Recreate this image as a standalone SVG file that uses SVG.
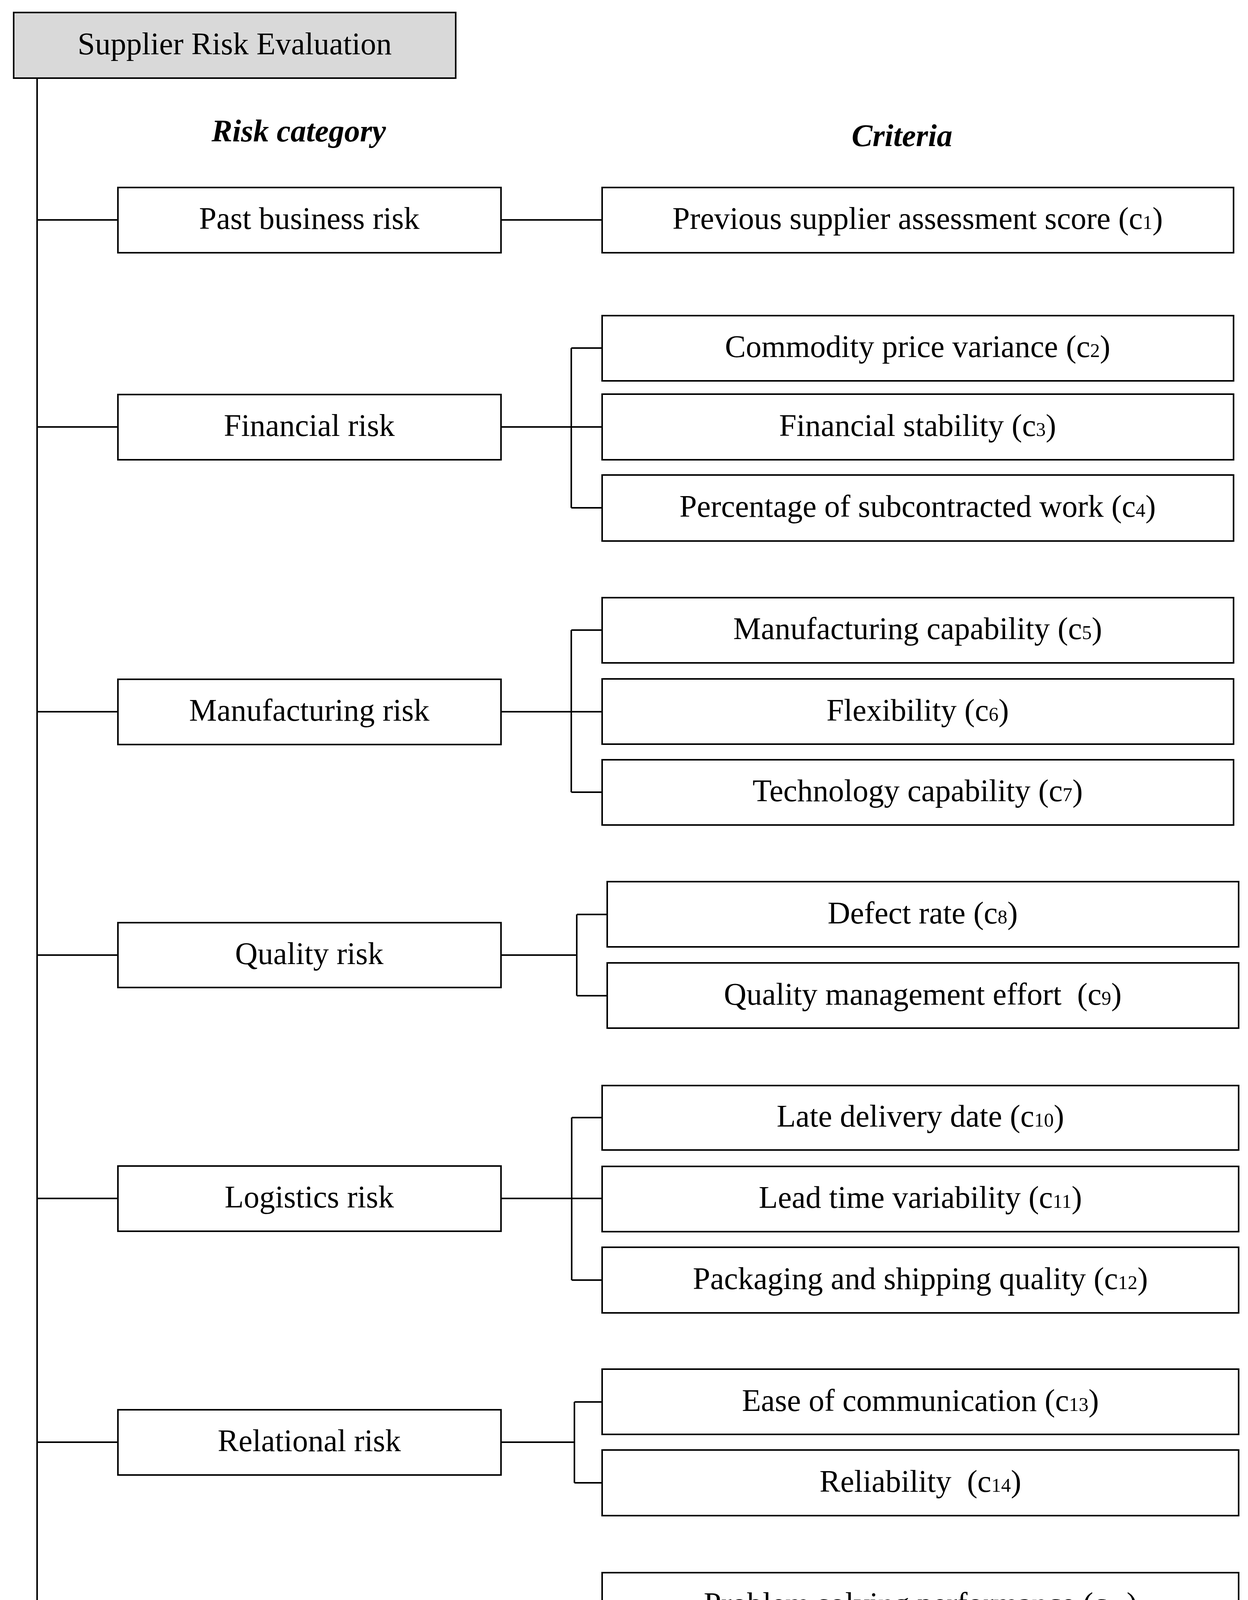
<svg xmlns="http://www.w3.org/2000/svg" width="3196" height="4744" viewBox="0 0 3196 4744">
<style>
.box{fill:#ffffff;stroke:#000000;stroke-width:4}
.title{fill:#d9d9d9;stroke:#000000;stroke-width:4}
.t{font-family:"Liberation Serif","Times New Roman",serif;font-size:80px;fill:#000000;text-anchor:middle;white-space:pre}
.h{font-family:"Liberation Serif","Times New Roman",serif;font-size:80px;font-weight:bold;font-style:italic;fill:#000000;text-anchor:middle}
.s{font-size:50px}
.c{fill:none;stroke:#000000;stroke-width:4}
</style>
<rect width="3196" height="4744" fill="#ffffff"/>
<g id="connectors">
<path class="c" d="M95,200 V4631"/>
<path class="c" d="M95,563 H302 M95,1093 H302 M95,1822 H302 M95,2445 H302 M95,3068 H302 M95,3692 H302 M95,4213 H302 M95,4631 H302"/>
<path class="c" d="M1283,563 H1542"/>
<path class="c" d="M1283,1093 H1542 M1463,891 V1300 M1463,891 H1542 M1463,1300 H1542"/>
<path class="c" d="M1283,1822 H1542 M1463,1613 V2028 M1463,1613 H1542 M1463,2028 H1542"/>
<path class="c" d="M1283,2445 H1477 M1477,2341 V2549 M1477,2341 H1555 M1477,2549 H1555"/>
<path class="c" d="M1283,3068 H1542 M1464,2861 V3277 M1464,2861 H1542 M1464,3277 H1542"/>
<path class="c" d="M1283,3692 H1471 M1471,3589 V3796 M1471,3589 H1542 M1471,3796 H1542"/>
<path class="c" d="M1283,4213 H1463 M1463,4109 V4316 M1463,4109 H1542 M1463,4316 H1542"/>
<path class="c" d="M1283,4631 H1542"/>
</g>
<g id="root"><rect class="title" x="35" y="32" width="1132" height="168"/><text class="t" x="601" y="139">Supplier Risk Evaluation</text></g>
<g id="header-risk"><text class="h" x="765" y="362">Risk category</text></g>
<g id="header-criteria"><text class="h" x="2310" y="374">Criteria</text></g>
<g id="past"><rect class="box" x="302" y="480" width="981" height="167"/><text class="t" x="792" y="586">Past business risk</text></g>
<g id="financial"><rect class="box" x="302" y="1010" width="981" height="167"/><text class="t" x="792" y="1116">Financial risk</text></g>
<g id="manufacturing"><rect class="box" x="302" y="1739" width="981" height="167"/><text class="t" x="792" y="1845">Manufacturing risk</text></g>
<g id="quality"><rect class="box" x="302" y="2362" width="981" height="166"/><text class="t" x="792" y="2468">Quality risk</text></g>
<g id="logistics"><rect class="box" x="302" y="2985" width="981" height="167"/><text class="t" x="792" y="3091">Logistics risk</text></g>
<g id="relational"><rect class="box" x="302" y="3609" width="981" height="167"/><text class="t" x="792" y="3715">Relational risk</text></g>
<g id="service"><rect class="box" x="302" y="4130" width="981" height="166"/><text class="t" x="792" y="4236">Service risk</text></g>
<g id="catastrophic"><rect class="box" x="302" y="4548" width="981" height="167"/><text class="t" x="792" y="4654">Catastrophic risk</text></g>
<g id="c1"><rect class="box" x="1542" y="480" width="1617" height="167"/><text class="t" x="2350" y="586">Previous supplier assessment score (c<tspan class="s">1</tspan>)</text></g>
<g id="c2"><rect class="box" x="1542" y="808" width="1617" height="167"/><text class="t" x="2350" y="914">Commodity price variance (c<tspan class="s">2</tspan>)</text></g>
<g id="c3"><rect class="box" x="1542" y="1009" width="1617" height="168"/><text class="t" x="2350" y="1116">Financial stability (c<tspan class="s">3</tspan>)</text></g>
<g id="c4"><rect class="box" x="1542" y="1216" width="1617" height="169"/><text class="t" x="2350" y="1323">Percentage of subcontracted work (c<tspan class="s">4</tspan>)</text></g>
<g id="c5"><rect class="box" x="1542" y="1530" width="1617" height="167"/><text class="t" x="2350" y="1636">Manufacturing capability (c<tspan class="s">5</tspan>)</text></g>
<g id="c6"><rect class="box" x="1542" y="1738" width="1617" height="167"/><text class="t" x="2350" y="1845">Flexibility (c<tspan class="s">6</tspan>)</text></g>
<g id="c7"><rect class="box" x="1542" y="1945" width="1617" height="167"/><text class="t" x="2350" y="2051">Technology capability (c<tspan class="s">7</tspan>)</text></g>
<g id="c8"><rect class="box" x="1555" y="2257" width="1617" height="167"/><text class="t" x="2363" y="2364">Defect rate (c<tspan class="s">8</tspan>)</text></g>
<g id="c9"><rect class="box" x="1555" y="2465" width="1617" height="167"/><text class="t" x="2363" y="2572">Quality management effort  (c<tspan class="s">9</tspan>)</text></g>
<g id="c10"><rect class="box" x="1542" y="2779" width="1630" height="165"/><text class="t" x="2357" y="2884">Late delivery date (c<tspan class="s">10</tspan>)</text></g>
<g id="c11"><rect class="box" x="1542" y="2986" width="1630" height="167"/><text class="t" x="2357" y="3092">Lead time variability (c<tspan class="s">11</tspan>)</text></g>
<g id="c12"><rect class="box" x="1542" y="3193" width="1630" height="168"/><text class="t" x="2357" y="3300">Packaging and shipping quality (c<tspan class="s">12</tspan>)</text></g>
<g id="c13"><rect class="box" x="1542" y="3505" width="1630" height="167"/><text class="t" x="2357" y="3612">Ease of communication (c<tspan class="s">13</tspan>)</text></g>
<g id="c14"><rect class="box" x="1542" y="3712" width="1630" height="168"/><text class="t" x="2357" y="3819">Reliability  (c<tspan class="s">14</tspan>)</text></g>
<g id="c15"><rect class="box" x="1542" y="4026" width="1630" height="166"/><text class="t" x="2357" y="4132">Problem solving performance (c<tspan class="s">15</tspan>)</text></g>
<g id="c16"><rect class="box" x="1542" y="4232" width="1630" height="167"/><text class="t" x="2357" y="4339">Warranty policy and after sales service  (c<tspan class="s">16</tspan>)</text></g>
<g id="c17"><rect class="box" x="1542" y="4548" width="1630" height="167"/><text class="t" x="2357" y="4654">Disaster recovery plans  (c<tspan class="s">17</tspan>)</text></g>
</svg>
